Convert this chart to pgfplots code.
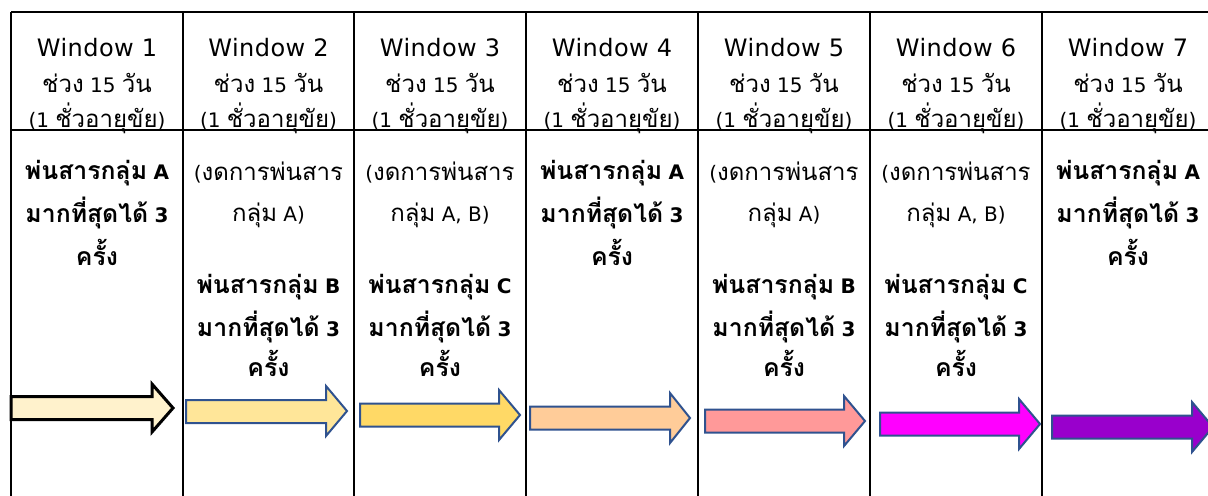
\documentclass[border=0pt]{standalone}
\usepackage{fontspec}
\setmainfont{DejaVu Sans}
\newfontfamily\wf[LetterSpace=2]{DejaVu Sans}
\newfontfamily\thf[Script=Thai]{Loma}
\usepackage{pgfplots}
\pgfplotsset{compat=1.18}
\definecolor{aone}{HTML}{FFF2CC}
\definecolor{atwo}{HTML}{FFE699}
\definecolor{athree}{HTML}{FFD966}
\definecolor{afour}{HTML}{FFCC99}
\definecolor{afive}{HTML}{FF9999}
\definecolor{asix}{HTML}{FF00FF}
\definecolor{aseven}{HTML}{9900CC}
\definecolor{aline}{HTML}{2F528F}
\newcommand\rs{\fontsize{11}{13}\selectfont}
\newcommand\TT[1]{{\thf\fontsize{12}{14}\selectfont #1}}
\newcommand\BB[1]{{\thf\bfseries\fontsize{12.4}{15}\selectfont #1}}
\newcommand\colhd[2]{%
  \node at (axis cs:#1,48) {{\wf\fontsize{12}{14}\selectfont Window #2}};
  \node at (axis cs:#1,83) {\TT{ช่วง} 15 \TT{วัน}};
  \node at (axis cs:#1,118) {(1 \TT{ชั่วอายุขัย})};}
\newcommand\colA[1]{%
  \node at (axis cs:#1,173) {\BB{พ่นสารกลุ่ม} \textbf{A}};
  \node at (axis cs:#1,213) {\BB{มากที่สุดได้} \textbf{3}};
  \node at (axis cs:#1,252) {\BB{ครั้ง}};}
\newcommand\colBC[3]{%
  \node at (axis cs:#1,173) {(\TT{งดการพ่นสาร}};
  \node at (axis cs:#1,215) {\TT{กลุ่ม} #2)};
  \node at (axis cs:#1,287) {\BB{พ่นสารกลุ่ม} \textbf{#3}};
  \node at (axis cs:#1,327) {\BB{มากที่สุดได้} \textbf{3}};
  \node at (axis cs:#1,363) {\BB{ครั้ง}};}
\begin{document}
\begin{tikzpicture}
\begin{axis}[
  scale only axis, width=604pt, height=247.5pt,
  xmin=0, xmax=1208, ymin=0, ymax=495, y dir=reverse,
  hide axis, clip=true,
  every node/.style={font=\rs, anchor=base, inner sep=0pt},
]
\coordinate (tl) at (axis cs:0,0);
\coordinate (br) at (axis cs:1208,495);
% table grid
\addplot[black, line width=1.2pt] coordinates {(11,12)(1220,12)};
\addplot[black, line width=1.2pt] coordinates {(11,130)(1220,130)};
\addplot[black, line width=1.2pt] coordinates {(11,12)(11,500)};
\addplot[black, line width=1.2pt] coordinates {(183,12)(183,500)};
\addplot[black, line width=1.2pt] coordinates {(354,12)(354,500)};
\addplot[black, line width=1.2pt] coordinates {(526,12)(526,500)};
\addplot[black, line width=1.2pt] coordinates {(698,12)(698,500)};
\addplot[black, line width=1.2pt] coordinates {(870,12)(870,500)};
\addplot[black, line width=1.2pt] coordinates {(1042,12)(1042,500)};
% arrows
\addplot[fill=aone, draw=black, line width=1.5pt] coordinates {(11,396.5)(152,396.5)(152,384)(173,408)(152,432)(152,419.5)(11,419.5)} -- cycle;
\addplot[fill=atwo, draw=aline, line width=1pt] coordinates {(186,400)(326,400)(326,386)(347,411)(326,436)(326,423)(186,423)} -- cycle;
\addplot[fill=athree, draw=aline, line width=1pt] coordinates {(360,403.5)(499,403.5)(499,390)(520,415)(499,440)(499,426.5)(360,426.5)} -- cycle;
\addplot[fill=afour, draw=aline, line width=1pt] coordinates {(530,406.5)(670,406.5)(670,393)(690,418)(670,443)(670,429.5)(530,429.5)} -- cycle;
\addplot[fill=afive, draw=aline, line width=1pt] coordinates {(705,409.5)(844,409.5)(844,396)(865,421)(844,446)(844,432.5)(705,432.5)} -- cycle;
\addplot[fill=asix, draw=aline, line width=1pt] coordinates {(880,412.5)(1019,412.5)(1019,399)(1040,424)(1019,449)(1019,435.5)(880,435.5)} -- cycle;
\addplot[fill=aseven, draw=aline, line width=1pt] coordinates {(1052,415.5)(1192,415.5)(1192,402)(1213,427)(1192,452)(1192,438.5)(1052,438.5)} -- cycle;
% header
\colhd{97}{1}\colhd{268.5}{2}\colhd{440}{3}\colhd{612}{4}\colhd{784}{5}\colhd{956}{6}\colhd{1128}{7}
% body
\colA{97}\colA{612}\colA{1128}
\colBC{268.5}{A}{B}\colBC{440}{A, B}{C}\colBC{784}{A}{B}\colBC{956}{A, B}{C}
\end{axis}
\pgfresetboundingbox
\path[use as bounding box] (tl) rectangle (br);
\end{tikzpicture}
\end{document}
